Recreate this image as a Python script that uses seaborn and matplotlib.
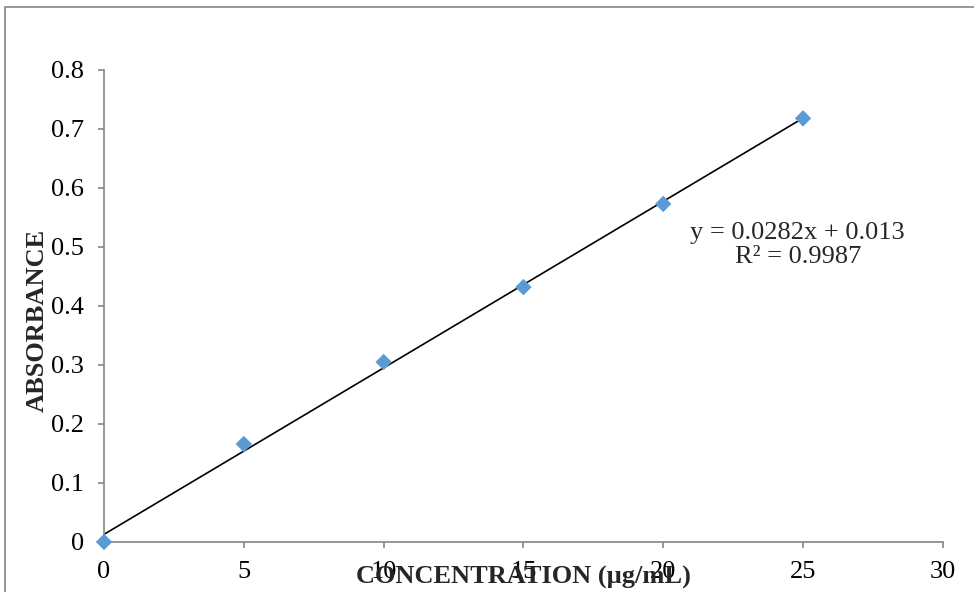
import numpy as np
import pandas as pd
import matplotlib.pyplot as plt
from matplotlib.patches import Rectangle
import seaborn as sns

# calibration data
concentration = [0, 5, 10, 15, 20, 25]
absorbance = [0.0, 0.166, 0.305, 0.432, 0.573, 0.718]
x_ticks = [0, 5, 10, 15, 20, 25, 30]
y_ticks = [0, 0.1, 0.2, 0.3, 0.4, 0.5, 0.6, 0.7, 0.8]
y_tick_labels = ['0', '0.1', '0.2', '0.3', '0.4', '0.5', '0.6', '0.7', '0.8']
equation_text = 'y = 0.0282x + 0.013\nR² = 0.9987'

df = pd.DataFrame({'conc': concentration, 'abs': absorbance})

sns.set_style('white')
plt.rcParams['font.family'] = ['Liberation Serif', 'DejaVu Serif']

grey = '#868686'

fig = plt.figure(figsize=(9.74, 5.92), dpi=100)
ax = fig.add_axes([0.1068, 0.0845, 0.968 - 0.1068, 0.8818 - 0.0845])

# linear trendline through the points
sns.regplot(data=df, x='conc', y='abs', scatter=False, ci=None, ax=ax,
            line_kws={'color': 'black', 'lw': 1.2})
sns.scatterplot(data=df, x='conc', y='abs', marker='D', s=70, color='#5B9BD5',
                edgecolor='none', ax=ax, zorder=3, clip_on=False)

ax.set_xlim(0, 30)
ax.set_ylim(0, 0.8)
ax.set_xticks(x_ticks)
ax.set_xticklabels([str(t) for t in x_ticks])
ax.set_yticks(y_ticks)
ax.set_yticklabels(y_tick_labels)

for side in ['top', 'right']:
    ax.spines[side].set_visible(False)
for side in ['left', 'bottom']:
    ax.spines[side].set_color(grey)
    ax.spines[side].set_linewidth(1.2)

ax.tick_params(axis='both', which='major', direction='out', length=4.5, width=1.2,
               color=grey, labelsize=19, labelcolor='black')
ax.tick_params(axis='x', bottom=True, pad=9)
ax.tick_params(axis='y', left=True, pad=10)

ax.set_xlabel('CONCENTRATION (µg/mL)', fontsize=19, fontweight='bold')
ax.xaxis.set_label_coords(0.5, -0.05)
ax.set_ylabel('ABSORBANCE', fontsize=19, fontweight='bold')
ax.yaxis.set_label_coords(-0.066, 0.47)

ax.text(0.827, 0.629, equation_text, transform=ax.transAxes, fontsize=19,
        ha='center', va='center', linespacing=1.07)

# outer chart border (clipped on right and bottom like the source)
fig.patches.append(Rectangle((4.5 / 974, -0.1), 1.2, 1 - 6.5 / 592 + 0.1,
                             transform=fig.transFigure, fill=False,
                             edgecolor=grey, lw=1.2))

fig.savefig('out.png', dpi=100)
